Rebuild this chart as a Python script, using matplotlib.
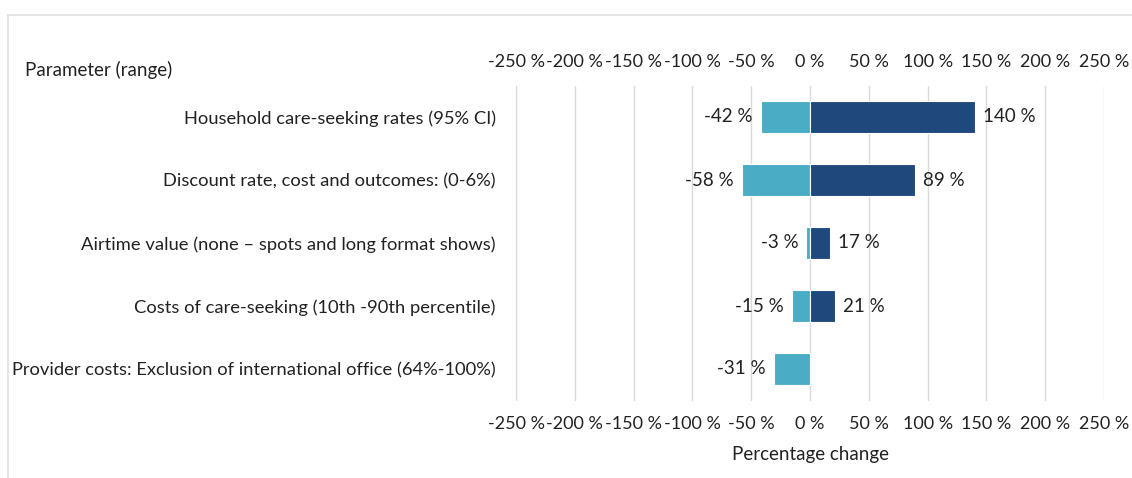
import matplotlib.pyplot as plt
from matplotlib.lines import Line2D

plt.rcParams['font.family'] = ['Lato', 'DejaVu Sans']

# data
params = [
    "Household care-seeking rates (95% CI)",
    "Discount rate, cost and outcomes: (0-6%)",
    "Airtime value (none \u2013 spots and long format shows)",
    "Costs of care-seeking (10th -90th percentile)",
    "Provider costs: Exclusion of international office (64%-100%)",
]
low_vals = [-42, -58, -3, -15, -31]
high_vals = [140, 89, 17, 21, None]
ticks = [-250, -200, -150, -100, -50, 0, 50, 100, 150, 200, 250]

light = '#4BACC6'
dark = '#1F497D'
txt = '#222222'

fig = plt.figure(figsize=(11.32, 4.78), dpi=100)
ax = fig.add_axes([516 / 1132, 1 - 400.5 / 478, 588 / 1132, 315 / 478])

ypos = list(range(len(params)))
hv = [v if v is not None else 0 for v in high_vals]
b1 = ax.barh(ypos, low_vals, height=0.5, color=light, edgecolor='white', linewidth=0.8, zorder=3)
b2 = ax.barh(ypos, hv, height=0.5, color=dark, edgecolor='white', linewidth=0.8, zorder=3)

ax.bar_label(b1, labels=[f'{v} %' for v in low_vals], padding=6, fontsize=13.5, color=txt)
ax.bar_label(b2, labels=[f'{v} %' if v is not None else '' for v in high_vals],
             padding=6, fontsize=13.5, color=txt)

ax.set_xlim(-250, 250)
ax.set_ylim(len(params) - 0.5, -0.5)
ax.set_xticks(ticks)
ax.set_xticklabels([f'{t} %' for t in ticks])
ax.tick_params(axis='x', labeltop=True, top=False, bottom=False, labelsize=13,
               labelcolor=txt, pad=8)
ax.set_yticks(ypos)
ax.set_yticklabels(params)
ax.tick_params(axis='y', left=False, labelsize=13.2, labelcolor=txt, pad=11)
ax.grid(axis='x', color='#D9D9D9', linewidth=1, zorder=0)
ax.grid(axis='y', visible=False)
for s in ax.spines.values():
    s.set_visible(False)

ax.set_xlabel('Percentage change', fontsize=13.5, color=txt, labelpad=10)
fig.text(25 / 1132, 1 - 70 / 478, 'Parameter (range)', fontsize=13.5, color=txt,
         va='center', ha='left')

# frame lines (top and left)
fig.add_artist(Line2D([8 / 1132, 1], [1 - 15 / 478, 1 - 15 / 478], color='#E0E0E0', lw=1.2))
fig.add_artist(Line2D([8 / 1132, 8 / 1132], [0, 1 - 15 / 478], color='#E0E0E0', lw=1.2))

fig.savefig('out.png', dpi=100)
